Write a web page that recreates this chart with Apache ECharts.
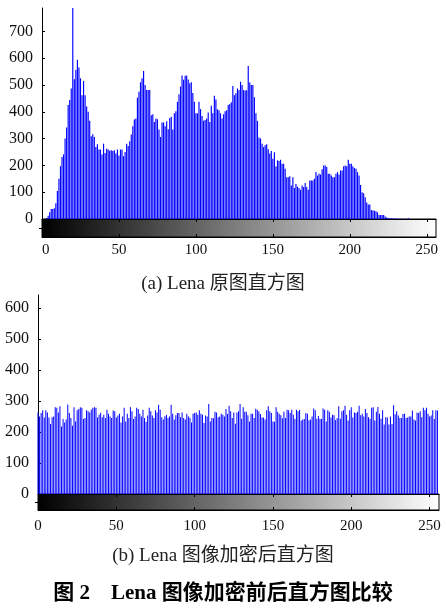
<!DOCTYPE html>
<html>
<head>
<meta charset="utf-8">
<script src="https://cdn.jsdelivr.net/npm/echarts@6/dist/echarts.min.js"></script>
<style>
html, body { margin: 0; padding: 0; background: #fff; }
#chart { width: 446px; height: 608px; }
</style>
</head>
<body>
<div id="chart"></div>
<script>
// 原图直方图（灰度 0..255 的像素个数）
const origCounts = [
  0, 0, 0, 4, 12, 25, 37, 37, 40, 59,
  104, 150, 197, 231, 241, 300, 341, 425, 444, 487,
  790, 521, 556, 594, 565, 525, 462, 515, 462, 420,
  400, 366, 309, 316, 306, 269, 279, 259, 259, 241,
  281, 246, 262, 259, 255, 256, 254, 256, 244, 259,
  237, 259, 259, 234, 250, 281, 272, 290, 315, 346,
  371, 375, 452, 475, 510, 525, 552, 500, 481, 481,
  481, 387, 391, 362, 375, 372, 334, 306, 360, 360,
  346, 365, 335, 377, 381, 334, 394, 402, 437, 465,
  494, 535, 519, 534, 535, 520, 506, 510, 470, 437,
  394, 394, 437, 410, 384, 366, 369, 375, 397, 362,
  422, 394, 460, 446, 409, 406, 394, 375, 391, 402,
  406, 425, 429, 435, 496, 462, 469, 487, 481, 512,
  500, 481, 479, 480, 571, 509, 500, 500, 454, 394,
  366, 304, 300, 281, 269, 275, 279, 260, 244, 254,
  225, 249, 196, 219, 216, 221, 206, 206, 187, 156,
  156, 159, 125, 156, 116, 131, 121, 116, 109, 125,
  119, 134, 119, 109, 144, 144, 144, 150, 175, 162,
  169, 166, 186, 200, 200, 194, 169, 169, 162, 156,
  156, 169, 175, 166, 181, 181, 197, 200, 197, 221,
  206, 206, 197, 190, 187, 175, 162, 127, 100, 96,
  81, 62, 54, 54, 34, 32, 31, 29, 25, 15,
  15, 15, 15, 9, 6, 4, 3, 3, 2, 2,
  2, 1, 1, 1, 1, 1, 0, 0, 4, 0,
  0, 0, 0, 0, 0, 0, 0, 0, 0, 0,
  0, 0, 0, 0, 0, 0
];

// 加密后直方图
const encCounts = [
  263, 250, 261, 270, 247, 270, 263, 247, 226, 248,
  250, 280, 278, 263, 283, 218, 242, 231, 240, 289,
  261, 245, 220, 280, 234, 270, 274, 280, 278, 242,
  245, 270, 267, 263, 272, 278, 280, 278, 247, 256,
  262, 248, 256, 245, 272, 259, 250, 245, 269, 267,
  247, 253, 259, 231, 250, 278, 234, 259, 245, 280,
  267, 242, 250, 278, 274, 259, 250, 272, 245, 233,
  253, 278, 267, 253, 245, 270, 263, 288, 272, 248,
  240, 251, 255, 245, 250, 288, 259, 240, 254, 261,
  261, 248, 263, 245, 240, 259, 250, 245, 231, 259,
  261, 263, 256, 270, 259, 256, 229, 253, 250, 290,
  234, 245, 244, 265, 263, 248, 250, 259, 256, 250,
  274, 258, 285, 267, 245, 263,
  227, 263, 267, 290, 243, 280, 265, 265, 254, 234,
  259, 259, 245, 275, 272, 266, 258, 247, 247, 240,
  270, 283, 267, 261, 234, 233, 280, 265, 259, 254,
  244, 265, 245, 272, 270, 261, 272, 256, 242, 272,
  267, 271, 237, 240, 242, 261, 259, 238, 240, 250,
  276, 270, 243, 252, 243, 242, 276, 272, 234, 270,
  265, 247, 256, 254, 239, 245, 283, 243, 267, 270,
  285, 256, 237, 270, 280, 247, 263, 261, 265, 285,
  254, 259, 250, 274, 261, 248, 243, 278, 280, 237,
  265, 281, 259, 243, 270, 224, 248, 247, 224, 250,
  226, 286, 257, 267, 253, 245, 245, 258, 259, 245,
  247, 250, 250, 269, 240, 237, 263, 261, 267, 248,
  278, 270, 278, 259, 250, 253, 270, 242, 270, 269
];

const xTicks = [0, 50, 100, 150, 200, 250];
const yTicksOrig = [0, 100, 200, 300, 400, 500, 600, 700];
const yTicksEnc = [0, 100, 200, 300, 400, 500, 600];

const captionA = '(a) Lena 原图直方图';
const captionB = '(b) Lena 图像加密后直方图';
const figTitle = '图 2    Lena 图像加密前后直方图比较';

const FONT = '"Liberation Serif", "Times New Roman", "Noto Sans CJK SC", serif';
const chart = echarts.init(document.getElementById('chart'));

function grayRamp() {
  return new echarts.graphic.LinearGradient(0, 0, 1, 0, [
    { offset: 0, color: '#000000' },
    { offset: 1, color: '#ffffff' }
  ]);
}

// 直方图的 y 轴
function countAxis(gridIndex, max, ticks) {
  return {
    type: 'value',
    gridIndex: gridIndex,
    min: 0,
    max: max,
    axisLine: { show: true, lineStyle: { color: '#000', width: 1 } },
    axisTick: { show: true, inside: true, length: 3, customValues: ticks, lineStyle: { color: '#000' } },
    axisLabel: { customValues: ticks, margin: 9, color: '#111', fontFamily: FONT, fontSize: 16 },
    splitLine: { show: false }
  };
}

// 灰度条上的 x 轴（下方带刻度值，上方只有刻度）
function rampAxis(gridIndex, position, labelMargin, alignMin) {
  return {
    type: 'value',
    gridIndex: gridIndex,
    position: position,
    min: 0,
    max: 256,
    axisLine: { show: true, onZero: false, lineStyle: { color: '#000', width: 1 } },
    axisTick: { show: true, inside: true, length: 3, customValues: xTicks, lineStyle: { color: '#000' } },
    axisLabel: {
      show: position === 'bottom',
      customValues: xTicks,
      margin: labelMargin,
      alignMinLabel: alignMin,
      color: '#111',
      fontFamily: FONT,
      fontSize: 15
    },
    splitLine: { show: false }
  };
}

const option = {
  animation: false,
  backgroundColor: '#fff',
  title: [
    { text: captionA, left: 'center', top: 270,
      textStyle: { fontFamily: FONT, fontSize: 19, fontWeight: 'normal', color: '#222' } },
    { text: captionB, left: 'center', top: 542,
      textStyle: { fontFamily: FONT, fontSize: 19, fontWeight: 'normal', color: '#222' } },
    { text: figTitle, left: 'center', top: 578,
      textStyle: { fontFamily: FONT, fontSize: 21, fontWeight: 'bold', color: '#000' } }
  ],
  grid: [
    { left: 42, top: 8, width: 394, height: 211 },
    { left: 42, top: 219, width: 394, height: 18, show: true, backgroundColor: grayRamp(), borderColor: '#000', borderWidth: 1 },
    { left: 38, top: 295, width: 401, height: 199 },
    { left: 38, top: 494, width: 401, height: 16, show: true, backgroundColor: grayRamp(), borderColor: '#000', borderWidth: 1 }
  ],
  xAxis: [
    { type: 'value', gridIndex: 0, min: 0, max: 256, show: false },
    rampAxis(1, 'bottom', 6, 'left'),
    rampAxis(1, 'top', 0, null),
    { type: 'value', gridIndex: 2, min: 0, max: 256, show: false },
    rampAxis(3, 'bottom', 9, null),
    rampAxis(3, 'top', 0, null)
  ],
  yAxis: [
    countAxis(0, 787, yTicksOrig),
    { type: 'value', gridIndex: 1, position: 'right', min: 0, max: 1,
      axisLine: { show: true, lineStyle: { color: '#000' } },
      axisTick: { show: true, inside: true, length: 3, customValues: [0.5], lineStyle: { color: '#000' } },
      axisLabel: { show: false }, splitLine: { show: false } },
    countAxis(2, 642, yTicksEnc),
    { type: 'value', gridIndex: 3, position: 'right', min: 0, max: 1,
      axisLine: { show: true, lineStyle: { color: '#000' } },
      axisTick: { show: true, inside: true, length: 3, customValues: [0.5], lineStyle: { color: '#000' } },
      axisLabel: { show: false }, splitLine: { show: false } }
  ],
  series: [
    {
      type: 'bar',
      xAxisIndex: 0,
      yAxisIndex: 0,
      barWidth: 1.15,
      clip: true,
      silent: true,
      itemStyle: { color: '#0000ff' },
      data: origCounts.map((c, i) => [i, c])
    },
    {
      type: 'bar',
      xAxisIndex: 3,
      yAxisIndex: 2,
      barWidth: 1.0,
      clip: true,
      silent: true,
      itemStyle: { color: '#0000ff' },
      data: encCounts.map((c, i) => [i, c])
    }
  ]
};

chart.setOption(option);
</script>
</body>
</html>
